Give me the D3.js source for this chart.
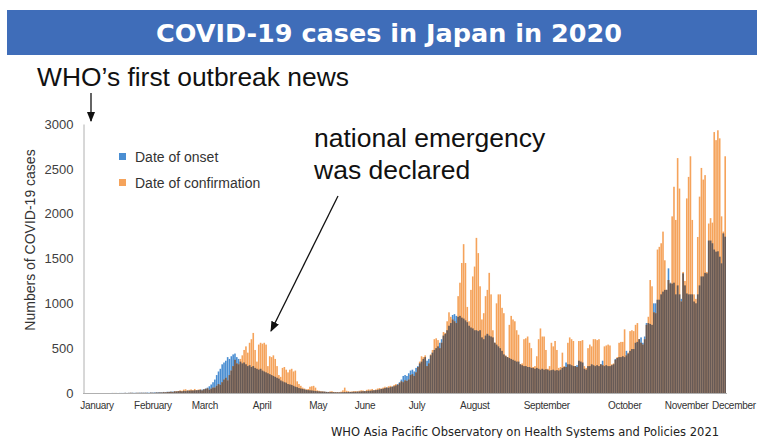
<!DOCTYPE html>
<html>
<head>
<meta charset="utf-8">
<script src="https://cdn.jsdelivr.net/npm/d3@7"></script>
<style>
  body { margin: 0; background: #fff; }
  svg { display: block; }
</style>
</head>
<body>
<div id="chart"></div>
<script>
// daily cases, Jan 1 .. mid December 2020
var onset = [
  0,0,0,0,0,0,0,0,0,0,
  0,0,0,0,1,0,1,0,1,1,
  1,2,1,2,2,3,2,3,2,4,
  3,4,3,5,4,6,5,7,8,9,
  10,9,12,11,14,13,15,16,18,17,
  20,22,19,24,21,26,25,28,27,30,
  30,32,35,38,42,50,60,75,95,120,
  150,200,240,270,320,340,360,400,380,410,
  430,440,400,380,350,330,340,320,300,310,
  290,300,280,270,260,270,250,240,230,220,
  210,200,190,180,170,160,140,130,120,115,
  100,95,90,80,70,65,55,50,45,40,
  35,32,30,28,25,22,20,18,16,15,
  14,12,12,10,10,9,8,8,7,8,
  9,10,10,12,11,12,14,13,15,16,
  18,20,22,21,25,24,28,30,32,35,
  40,45,48,55,60,58,65,70,75,85,
  100,120,150,190,200,190,220,250,260,240,
  280,300,330,350,380,400,360,380,420,450,
  480,500,520,560,600,640,660,700,750,780,
  870,880,860,850,860,840,830,810,790,750,
  730,720,700,700,690,700,620,600,640,660,
  640,630,620,560,540,520,500,470,430,410,
  400,390,380,370,360,350,350,320,310,300,
  300,290,290,280,280,270,280,270,260,270,
  260,265,260,250,255,260,250,255,250,260,
  280,290,340,320,320,310,300,300,310,360,
  350,340,270,260,300,300,320,310,300,310,
  300,320,360,300,310,300,300,310,320,380,
  390,400,400,410,400,470,440,470,490,490,
  560,570,600,620,560,630,780,780,770,760,
  1000,1000,1040,1040,1100,1130,1150,1150,1390,1230,
  1220,1230,1100,1200,1100,1050,1334,1200,1110,1100,
  1100,1100,1020,1000,1100,1200,1300,1300,1340,1334,
  1700,1700,1670,1600,1576,1580,1520,1446,1780,1743
];
var confirmation = [
  0,0,0,0,0,0,0,0,0,0,
  0,0,0,0,0,1,0,0,0,0,
  0,1,0,1,2,1,0,1,2,1,
  2,1,2,1,0,3,2,1,4,3,
  5,4,8,6,10,12,14,9,18,20,
  22,30,25,38,42,28,35,40,32,45,
  30,38,42,28,40,46,52,35,48,60,
  60,80,100,90,120,150,170,140,200,250,
  300,370,330,320,380,420,480,520,450,560,
  600,670,480,350,540,560,550,560,540,300,
  410,400,420,380,300,200,180,280,290,260,
  230,260,270,240,250,130,100,80,60,50,
  40,45,70,75,80,60,30,25,20,18,
  15,12,10,18,20,12,9,10,8,15,
  30,60,25,20,15,18,20,22,18,25,
  30,28,20,35,40,38,45,30,40,50,
  55,50,60,70,60,75,80,70,90,100,
  90,110,130,120,140,135,150,200,210,190,
  230,290,350,410,400,420,300,330,430,480,
  600,610,590,500,560,680,670,800,900,850,
  820,800,780,1080,1230,1450,1660,1450,960,800,
  1150,1300,1410,1730,1560,1190,820,890,1080,1150,
  1340,1100,700,560,1000,1100,1100,950,890,420,
  400,760,860,820,800,700,650,320,330,600,
  610,630,560,500,290,300,410,600,720,630,
  630,480,270,300,560,520,580,480,280,290,
  450,300,290,560,620,600,580,300,290,580,
  580,590,300,280,500,540,520,600,600,590,
  600,320,310,520,530,540,530,320,330,370,
  400,560,570,570,710,420,450,690,700,690,
  760,780,600,560,540,600,760,850,1260,1190,
  900,890,1600,1630,1670,1800,1480,1150,1260,1220,
  1970,2300,1930,2620,2280,1020,1350,1250,2170,2410,
  2640,1930,1100,1050,1740,2190,2510,2380,2430,1350,
  1890,1950,1900,2910,2820,2930,2840,1970,1800,2640
];
// month labels and the day (index) each label sits on
var months = ["January", "February", "March", "April", "May", "June",
  "July", "August", "September", "October", "November", "December"];
var monthDay = [6, 36.6, 65, 96.3, 127, 152.6, 181, 212.6, 252, 294.6, 328.5, 354.3];
var yTicks = [0, 500, 1000, 1500, 2000, 2500, 3000];
var seriesNames = ["Date of onset", "Date of confirmation"];

var W = 757, H = 438;
var blue = "#4a8ed2", orange = "#f5a35b", both = "#675a56";

var svg = d3.select("#chart").append("svg").attr("width", W).attr("height", H);

// title banner
svg.append("rect").attr("x", 7).attr("y", 10).attr("width", W - 7).attr("height", 45)
  .style("fill", "#3f6db9");
svg.append("text")
  .attr("x", 389).attr("y", 42)
  .attr("text-anchor", "middle")
  .style("font-family", "DejaVu Sans, sans-serif")
  .style("font-weight", "bold")
  .style("font-size", "25.5px")
  .style("fill", "#fff")
  .text("COVID-19 cases in Japan in 2020");

var days = d3.range(onset.length);
var x = d3.scaleBand().domain(days).range([86, 726]).paddingInner(0.12);
var xl = d3.scaleLinear().domain([0, onset.length]).range([86, 726]);
var y = d3.scaleLinear().domain([0, 3000]).range([393, 124]);

var chart = svg.append("g");

chart.selectAll("rect.on")
  .data(days).enter().append("rect").attr("class", "on")
  .attr("x", function (d) { return x(d); })
  .attr("width", x.bandwidth())
  .attr("y", function (d) { return y(onset[d]); })
  .attr("height", function (d) { return y(0) - y(onset[d]); })
  .style("fill", blue);

chart.selectAll("rect.conf")
  .data(days).enter().append("rect").attr("class", "conf")
  .attr("x", function (d) { return x(d); })
  .attr("width", x.bandwidth())
  .attr("y", function (d) { return y(confirmation[d]); })
  .attr("height", function (d) { return y(0) - y(confirmation[d]); })
  .style("fill", orange);

// where the two series overlap the picture shows a dark mix
chart.selectAll("rect.both")
  .data(days).enter().append("rect").attr("class", "both")
  .attr("x", function (d) { return x(d); })
  .attr("width", x.bandwidth())
  .attr("y", function (d) { return y(Math.min(onset[d], confirmation[d])); })
  .attr("height", function (d) { return y(0) - y(Math.min(onset[d], confirmation[d])); })
  .style("fill", both);

// axes
var yAxis = d3.axisLeft(y).tickValues(yTicks).tickFormat(d3.format("d")).tickSize(0).tickPadding(10);
var gy = svg.append("g").attr("transform", "translate(83.5,0)").call(yAxis);
gy.select(".domain").style("stroke", "#b0b0b0");
gy.selectAll("text")
  .style("font-family", "Liberation Sans, Arial, sans-serif")
  .style("font-size", "13px").style("fill", "#404040");

svg.append("line")
  .attr("x1", 83).attr("x2", 727).attr("y1", 393.5).attr("y2", 393.5)
  .style("stroke", "#b0b0b0");

svg.append("g").selectAll("text")
  .data(months).enter().append("text")
  .attr("x", function (d, i) { return xl(monthDay[i]); })
  .attr("y", 409)
  .attr("text-anchor", "middle")
  .style("font-family", "Liberation Sans, Arial, sans-serif")
  .style("font-size", "10px").style("letter-spacing", "-0.3px").style("fill", "#333")
  .text(function (d) { return d; });

svg.append("text")
  .attr("transform", "translate(35,240) rotate(-90)")
  .attr("text-anchor", "middle")
  .style("font-family", "Liberation Sans, Arial, sans-serif")
  .style("font-size", "14px").style("fill", "#333")
  .text("Numbers of COVID-19 cases");

// legend
var legend = svg.append("g").selectAll("g")
  .data(seriesNames).enter().append("g")
  .attr("transform", function (d, i) { return "translate(119," + (153 + i * 26) + ")"; });
legend.append("rect").attr("width", 7).attr("height", 7)
  .style("fill", function (d, i) { return i == 0 ? blue : orange; });
legend.append("text").attr("x", 16).attr("y", 8.5)
  .style("font-family", "Liberation Sans, Arial, sans-serif")
  .style("font-size", "14px").style("fill", "#333")
  .text(function (d) { return d; });

// annotations
svg.append("defs").append("marker")
  .attr("id", "head").attr("viewBox", "0 0 10 10")
  .attr("refX", 9).attr("refY", 5)
  .attr("markerWidth", 8).attr("markerHeight", 8)
  .attr("orient", "auto")
  .append("path").attr("d", "M0,1 L10,5 L0,9 Z").style("fill", "#111");

svg.append("text")
  .attr("x", 37).attr("y", 86)
  .style("font-family", "Liberation Sans, Arial, sans-serif")
  .style("font-size", "26.4px").style("fill", "#111")
  .text("WHO\u2019s first outbreak news");
svg.append("line")
  .attr("x1", 91).attr("y1", 93).attr("x2", 91).attr("y2", 121)
  .style("stroke", "#111").style("stroke-width", 1.3)
  .attr("marker-end", "url(#head)");

var note = svg.append("text")
  .style("font-family", "Liberation Sans, Arial, sans-serif")
  .style("font-size", "26.5px").style("fill", "#111");
note.append("tspan").attr("x", 314).attr("y", 147).text("national emergency");
note.append("tspan").attr("x", 314).attr("y", 179).text("was declared");
svg.append("line")
  .attr("x1", 338).attr("y1", 196).attr("x2", 271).attr("y2", 331)
  .style("stroke", "#111").style("stroke-width", 1.3)
  .attr("marker-end", "url(#head)");

svg.append("text")
  .attr("x", 525).attr("y", 436)
  .attr("text-anchor", "middle")
  .style("font-family", "DejaVu Sans, sans-serif")
  .style("font-size", "11.5px").style("fill", "#222")
  .text("WHO Asia Pacific Observatory on Health Systems and Policies 2021");
</script>
</body>
</html>
